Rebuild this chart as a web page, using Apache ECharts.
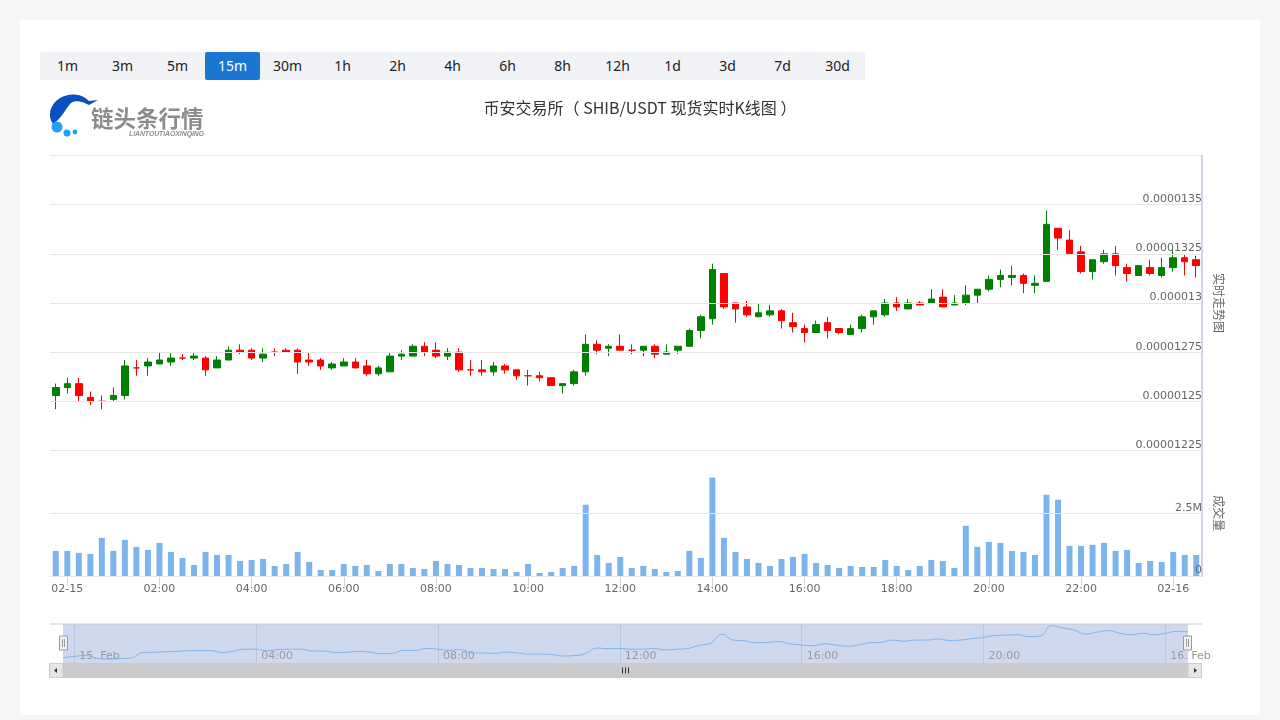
<!DOCTYPE html>
<html>
<head>
<meta charset="utf-8">
<script src="https://cdn.jsdelivr.net/npm/echarts@6/dist/echarts.min.js"></script>
<style>
  html, body { margin: 0; padding: 0; width: 1280px; height: 720px; overflow: hidden; background: #f5f5f5; }
  #card { position: absolute; left: 20px; top: 20px; width: 1240px; height: 695px; background: #fff; }
  #main { position: absolute; left: 0; top: 0; width: 1280px; height: 720px; }
  #periods { position: absolute; left: 40px; top: 52px; display: flex; background: #f0f2f5; height: 28px; }
  #periods span { width: 55px; height: 28px; line-height: 28px; text-align: center; font: 14px/28px "Noto Sans", sans-serif; color: #222; }
  #periods span.on { background: #1976d2; color: #fff; border-radius: 2px; }
  #logo { position: absolute; left: 0; top: 0; }
</style>
</head>
<body>
<div id="card"></div>
<div id="main"></div>
<div id="periods"></div>
<svg id="logo" width="220" height="145">
  <path d="M53,124 C47,116 50,104 60,98 C69,93 81,93 89,101 C92,101 95,100 98,100 C95,102 92,103 89,105 C82,101 75,100 71,103 C66,108 62,118 53,124 Z" fill="#0a50c2"/>
  <circle cx="57" cy="127" r="5.5" fill="#1ea0f5"/>
  <circle cx="67" cy="133" r="3.5" fill="#1ea0f5"/>
  <circle cx="75" cy="132" r="2.4" fill="#1ea0f5"/>
  <text x="91" y="127" font-family="Noto Sans CJK SC" font-weight="700" font-size="22.5" fill="#8c8c8c">链头条行情</text>
  <text x="129" y="136" font-family="Liberation Sans" font-style="italic" font-weight="700" font-size="6.8" fill="#8c8c8c">LIANTOUTIAOXINQING</text>
</svg>
<script>
const periods = ["1m", "3m", "5m", "15m", "30m", "1h", "2h", "4h", "6h", "8h", "12h", "1d", "3d", "7d", "30d"];
const activePeriod = "15m";

// prices are in units of 0.00000001
const opens = [
  1253, 1257, 1259, 1252, 1250, 1251, 1253, 1267, 1268, 1269,
  1270, 1272, 1272, 1272, 1267, 1271, 1276, 1276, 1272, 1275,
  1276, 1276, 1271, 1271, 1267, 1268, 1270, 1268, 1264, 1265,
  1273, 1273, 1278, 1276, 1273, 1275, 1266, 1266, 1265, 1268,
  1266, 1263, 1263, 1262, 1258, 1259, 1265, 1279, 1277, 1278,
  1276, 1276, 1278, 1274, 1276, 1278, 1286, 1292, 1315, 1300,
  1298, 1293, 1294, 1296, 1290, 1287, 1285, 1290, 1287, 1284,
  1287, 1293, 1294, 1300, 1297, 1300, 1300, 1303, 1299, 1300,
  1304, 1307, 1312, 1313, 1314, 1309, 1311, 1338, 1332, 1326,
  1316, 1321, 1325, 1318, 1314, 1318, 1314, 1318, 1323, 1322
];
const closes = [
  1257, 1259, 1253, 1250, 1250, 1253, 1268, 1267, 1270, 1271,
  1272, 1272, 1273, 1266, 1271, 1276, 1275, 1272, 1274, 1275,
  1275, 1270, 1270, 1268, 1269, 1270, 1267, 1264, 1267, 1273,
  1274, 1278, 1275, 1273, 1275, 1266, 1266, 1265, 1268, 1266,
  1263, 1263, 1262, 1258, 1259, 1265, 1279, 1276, 1278, 1276,
  1276, 1278, 1274, 1275, 1278, 1286, 1293, 1317, 1298, 1297,
  1294, 1295, 1296, 1291, 1288, 1285, 1289, 1286, 1285, 1287,
  1293, 1296, 1300, 1298, 1300, 1299, 1302, 1298, 1300, 1304,
  1307, 1312, 1314, 1314, 1310, 1310, 1340, 1333, 1325, 1316,
  1322, 1325, 1319, 1315, 1319, 1315, 1318, 1323, 1321, 1319
];
const lows = [
  1246, 1254, 1250, 1248, 1246, 1250, 1251, 1263, 1263, 1269,
  1268, 1271, 1271, 1263, 1267, 1271, 1274, 1271, 1270, 1273,
  1275, 1264, 1268, 1266, 1266, 1268, 1267, 1263, 1263, 1265,
  1271, 1273, 1273, 1272, 1271, 1265, 1263, 1263, 1263, 1264,
  1261, 1258, 1260, 1258, 1254, 1258, 1263, 1274, 1273, 1276,
  1274, 1273, 1272, 1274, 1274, 1278, 1282, 1289, 1297, 1290,
  1293, 1293, 1293, 1287, 1285, 1280, 1285, 1282, 1284, 1284,
  1285, 1289, 1293, 1296, 1297, 1299, 1300, 1298, 1299, 1299,
  1300, 1306, 1308, 1309, 1305, 1305, 1311, 1327, 1325, 1315,
  1312, 1320, 1314, 1311, 1314, 1314, 1313, 1316, 1314, 1313
];
const highs = [
  1259, 1262, 1262, 1255, 1253, 1257, 1271, 1271, 1272, 1275,
  1275, 1274, 1275, 1273, 1273, 1278, 1279, 1277, 1277, 1277,
  1277, 1277, 1275, 1272, 1270, 1272, 1272, 1271, 1268, 1275,
  1276, 1279, 1280, 1280, 1277, 1277, 1271, 1271, 1270, 1269,
  1266, 1266, 1265, 1262, 1259, 1266, 1284, 1281, 1279, 1284,
  1279, 1278, 1279, 1279, 1278, 1287, 1294, 1320, 1315, 1300,
  1301, 1300, 1299, 1297, 1295, 1289, 1291, 1293, 1287, 1289,
  1294, 1296, 1302, 1303, 1302, 1301, 1307, 1307, 1304, 1309,
  1307, 1314, 1317, 1319, 1315, 1314, 1347, 1338, 1337, 1329,
  1322, 1327, 1329, 1320, 1319, 1322, 1323, 1328, 1325, 1324
];
// volumes in thousands
const volumes = [
  1000, 1000, 920, 880, 1520, 1000, 1440, 1160, 1040, 1320,
  960, 720, 440, 960, 840, 840, 600, 640, 680, 400,
  480, 960, 560, 240, 240, 480, 400, 440, 200, 480,
  480, 320, 280, 600, 480, 440, 320, 320, 280, 280,
  160, 480, 120, 160, 320, 400, 2840, 840, 520, 760,
  320, 400, 280, 160, 200, 1000, 720, 3920, 1520, 960,
  680, 520, 400, 680, 760, 880, 520, 440, 320, 400,
  360, 360, 640, 400, 240, 400, 640, 600, 320, 2000,
  1160, 1360, 1320, 1000, 960, 840, 3240, 3040, 1200, 1200,
  1240, 1320, 1000, 1040, 520, 600, 560, 960, 840, 840
];
// every candle slot, first one is 23:45 on the 14th
const slots = closes.map((_, i) => "s" + i);
const tickLabels = ["02-15", "02:00", "04:00", "06:00", "08:00", "10:00", "12:00", "14:00", "16:00", "18:00", "20:00", "22:00", "02-16"];
const navLabels = ["15. Feb", "04:00", "08:00", "12:00", "16:00", "20:00", "16. Feb"];

document.getElementById("periods").innerHTML = periods
  .map(p => `<span class="${p === activePeriod ? "on" : ""}">${p}</span>`)
  .join("");

const labelFont = "DejaVu Sans";
const axisBlue = "#ccd6eb";
const gridGrey = "#e6e6e6";

const isTick = i => (i - 1) % 8 === 0;
const isNavTick = i => (i - 1) % 16 === 0;

const priceLabel = v => (v / 1e8).toFixed(8).replace(/0+$/, "");
const volumeLabel = v => (v === 0 ? "0" : v / 1000 + "M");

function handle(x) {
  return {
    type: "group",
    children: [
      { type: "rect", shape: { x: x - 4, y: 636, width: 8, height: 14 }, style: { fill: "#f2f2f2", stroke: "#999", lineWidth: 1 } },
      { type: "line", shape: { x1: x - 1, y1: 639, x2: x - 1, y2: 647 }, style: { stroke: "#999", lineWidth: 1 } },
      { type: "line", shape: { x1: x + 1, y1: 639, x2: x + 1, y2: 647 }, style: { stroke: "#999", lineWidth: 1 } }
    ]
  };
}

const chart = echarts.init(document.getElementById("main"));
chart.setOption({
  animation: false,
  title: {
    text: "币安交易所（ SHIB/USDT 现货实时K线图 ）",
    left: "center",
    top: 95,
    textStyle: { fontFamily: "Noto Sans CJK SC", fontSize: 16, fontWeight: "normal", color: "#333" }
  },
  grid: [
    { left: 50, width: 1152, top: 155.5, height: 295 },
    { left: 50, width: 1152, top: 450.5, height: 125.5 },
    { left: 63, width: 1125, top: 624, height: 39, show: true, backgroundColor: "#cfd9ee", borderWidth: 0 }
  ],
  xAxis: [
    { type: "category", gridIndex: 0, data: slots, axisLine: { show: false }, axisTick: { show: false }, axisLabel: { show: false } },
    {
      type: "category",
      gridIndex: 1,
      data: slots,
      axisLine: { lineStyle: { color: axisBlue } },
      axisTick: { show: true, alignWithLabel: true, length: 10, lineStyle: { color: axisBlue }, interval: isTick },
      axisLabel: {
        interval: isTick,
        margin: 8,
        color: "#666",
        fontFamily: labelFont,
        fontSize: 11,
        formatter: (v, i) => tickLabels[(i - 1) / 8]
      }
    },
    {
      type: "category",
      gridIndex: 2,
      data: slots,
      boundaryGap: false,
      axisLine: { show: false },
      axisTick: { show: false },
      splitLine: { show: true, interval: isNavTick, lineStyle: { color: "#bcc6da" } },
      axisLabel: {
        inside: true,
        interval: isNavTick,
        align: "left",
        margin: 1,
        padding: [0, 0, 0, 5],
        color: "#999",
        fontFamily: labelFont,
        fontSize: 11,
        formatter: (v, i) => navLabels[(i - 1) / 16]
      }
    }
  ],
  yAxis: [
    {
      type: "value",
      gridIndex: 0,
      position: "right",
      min: 1225,
      max: 1375,
      interval: 25,
      z: 3,
      name: "实时走势图",
      nameLocation: "middle",
      nameRotate: -90,
      nameGap: 11,
      nameTextStyle: { color: "#666", fontFamily: "Noto Sans CJK SC", fontSize: 12 },
      axisLine: { show: true, lineStyle: { color: axisBlue, width: 2 } },
      axisTick: { show: false },
      splitLine: { lineStyle: { color: gridGrey } },
      axisLabel: { inside: true, verticalAlign: "bottom", margin: 0, showMaxLabel: false, color: "#666", fontFamily: labelFont, fontSize: 11, formatter: priceLabel }
    },
    {
      type: "value",
      gridIndex: 1,
      position: "right",
      min: 0,
      max: 5000,
      interval: 2500,
      z: 3,
      name: "成交量",
      nameLocation: "middle",
      nameRotate: -90,
      nameGap: 11,
      nameTextStyle: { color: "#666", fontFamily: "Noto Sans CJK SC", fontSize: 12 },
      axisLine: { show: true, lineStyle: { color: axisBlue, width: 2 } },
      axisTick: { show: false },
      splitLine: { lineStyle: { color: gridGrey } },
      axisLabel: { inside: true, verticalAlign: "bottom", margin: 0, showMaxLabel: false, color: "#666", fontFamily: labelFont, fontSize: 11, formatter: volumeLabel }
    },
    { type: "value", gridIndex: 2, min: 1239.5, max: 1342.5, show: false }
  ],
  series: [
    {
      type: "candlestick",
      xAxisIndex: 0,
      yAxisIndex: 0,
      barWidth: 7,
      data: opens.map((o, i) => [o, closes[i], lows[i], highs[i]]),
      itemStyle: {
        color: "#008000",
        color0: "#ff0000",
        borderColor: "#008000",
        borderColor0: "#ff0000",
        borderColorDoji: "#ff0000",
        borderWidth: 1
      }
    },
    {
      type: "bar",
      xAxisIndex: 1,
      yAxisIndex: 1,
      barWidth: 6,
      data: volumes,
      itemStyle: { color: "#7cb5ec" }
    },
    {
      // the overview strip follows the open price
      type: "line",
      xAxisIndex: 2,
      yAxisIndex: 2,
      data: opens,
      smooth: true,
      showSymbol: false,
      lineStyle: { color: "#7cb5ec", width: 1 }
    }
  ],
  graphic: [
    { type: "line", shape: { x1: 50, y1: 624, x2: 1202, y2: 624 }, style: { stroke: "#cccccc", lineWidth: 1 } },
    { type: "rect", shape: { x: 50, y: 663, width: 1152, height: 15 }, style: { fill: "#cbcbcb" } },
    { type: "rect", shape: { x: 49.5, y: 663.5, width: 13.5, height: 14 }, style: { fill: "#e6e6e6", stroke: "#cccccc" } },
    { type: "rect", shape: { x: 1188, y: 663.5, width: 13.5, height: 14 }, style: { fill: "#e6e6e6", stroke: "#cccccc" } },
    { type: "polygon", shape: { points: [[54, 670.5], [57, 668], [57, 673]] }, style: { fill: "#333" } },
    { type: "polygon", shape: { points: [[1197, 670.5], [1194, 668], [1194, 673]] }, style: { fill: "#333" } },
    { type: "line", shape: { x1: 622.5, y1: 667.5, x2: 622.5, y2: 673.5 }, style: { stroke: "#333" } },
    { type: "line", shape: { x1: 625.5, y1: 667.5, x2: 625.5, y2: 673.5 }, style: { stroke: "#333" } },
    { type: "line", shape: { x1: 628.5, y1: 667.5, x2: 628.5, y2: 673.5 }, style: { stroke: "#333" } },
    handle(63.5),
    handle(1187.5)
  ]
});
</script>
</body>
</html>
